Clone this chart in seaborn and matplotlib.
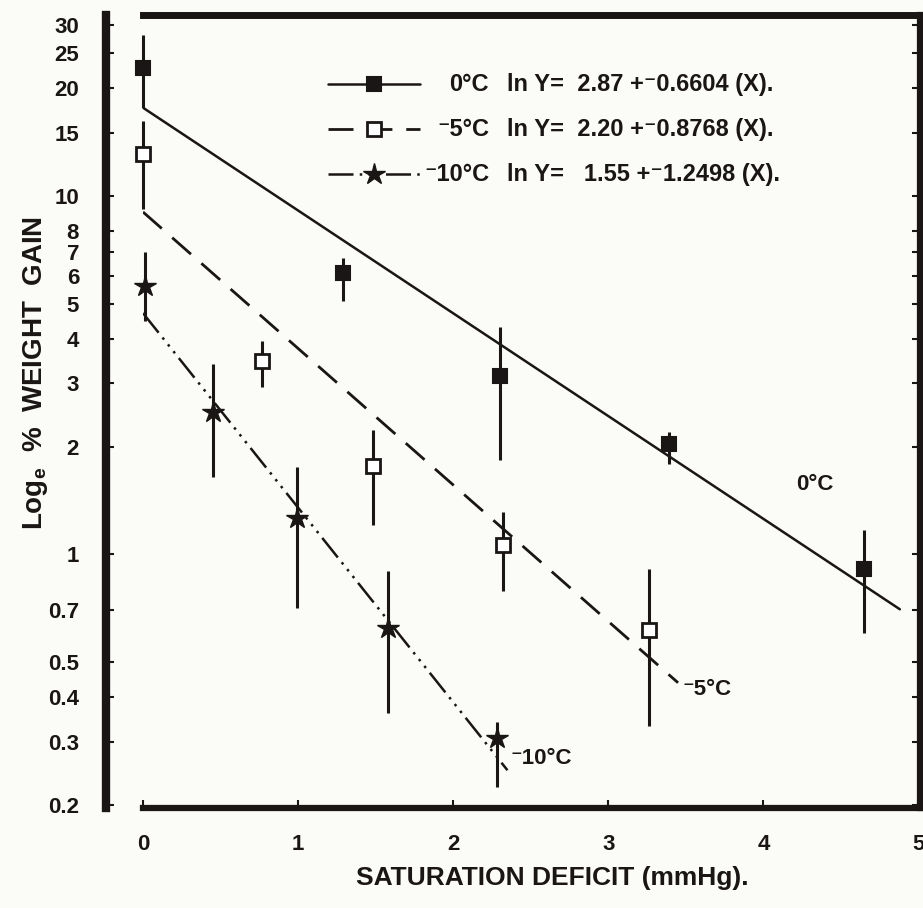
import numpy as np
import matplotlib
matplotlib.use("Agg")
import matplotlib.pyplot as plt
import seaborn as sns
from matplotlib.lines import Line2D

# ---------------- data ----------------
temps = ["0°C", "⁻5°C", "⁻10°C"]
equations = ["ln Y=  2.87 +⁻0.6604 (X).",
             "ln Y=  2.20 +⁻0.8768 (X).",
             "ln Y=   1.55 +⁻1.2498 (X)."]
intercepts = [2.87, 2.20, 1.55]
slopes = [-0.6604, -0.8768, -1.2498]
line_xmax = [4.88, 3.45, 2.35]

x_0 = [0.0, 1.29, 2.30, 3.39, 4.65]
y_0 = [22.7, 6.1, 3.15, 2.03, 0.91]
lo_0 = [17.6, 5.1, 1.83, 1.79, 0.605]
hi_0 = [28.2, 6.7, 4.3, 2.2, 1.17]

x_5 = [0.0, 0.77, 1.48, 2.32, 3.26]
y_5 = [13.1, 3.47, 1.76, 1.06, 0.617]
lo_5 = [9.2, 2.93, 1.21, 0.79, 0.332]
hi_5 = [16.2, 3.93, 2.23, 1.31, 0.908]

x_10 = [0.01, 0.45, 0.99, 1.58, 2.28]
y_10 = [5.6, 2.5, 1.26, 0.624, 0.307]
lo_10 = [4.47, 1.64, 0.71, 0.36, 0.225]
hi_10 = [6.99, 3.4, 1.75, 0.90, 0.34]

yticks = [0.2, 0.3, 0.4, 0.5, 0.7, 1, 2, 3, 4, 5, 6, 7, 8, 10, 15, 20, 25, 30]
ytick_labels = ["0.2", "0.3", "0.4", "0.5", "0.7", "1", "2", "3", "4", "5",
                "6", "7", "8", "10", "15", "20", "25", "30"]
xticks = [0, 1, 2, 3, 4, 5]

# ---------------- style ----------------
sns.set_style("ticks")
plt.rcParams["font.family"] = ["Liberation Sans", "DejaVu Sans"]
plt.rcParams["font.weight"] = "bold"
plt.rcParams["mathtext.fontset"] = "custom"
plt.rcParams["mathtext.rm"] = "Liberation Sans:bold"
plt.rcParams["mathtext.default"] = "rm"

bg = "#fbfbf7"
ink = "#1a1616"

fig = plt.figure(figsize=(9.23, 9.08), dpi=100, facecolor=bg)
ax = fig.add_axes([143 / 923, 1 - 808 / 908, (920 - 143) / 923, (808 - 15) / 908])
ax.set_facecolor(bg)
ax.set_yscale("log")

series = [
    (x_0, y_0, lo_0, hi_0, dict(marker="s", ms=10, mfc=ink, mec=ink, mew=1.5),
     dict(ls="-", lw=1.8)),
    (x_5, y_5, lo_5, hi_5, dict(marker="s", ms=10, mfc="white", mec=ink, mew=2.0),
     dict(ls=(0, (9, 5)), lw=2.0)),
    (x_10, y_10, lo_10, hi_10, dict(marker="*", ms=16, mfc=ink, mec=ink, mew=1.0),
     dict(ls=(0, (10, 2.5, 1, 2.5, 1, 2.5, 1, 2.5)), lw=1.8)),
]

handles = []
for i, (xs, ys, lo, hi, mstyle, lstyle) in enumerate(series):
    # regression line from the stated equation
    xl = np.array([0.0, line_xmax[i]])
    yl = np.exp(intercepts[i] + slopes[i] * xl)
    sns.lineplot(x=xl, y=yl, ax=ax, color=ink, linestyle=lstyle["ls"],
                 linewidth=lstyle["lw"], estimator=None, sort=False, legend=False)
    ys_a = np.array(ys)
    yerr = np.vstack([ys_a - np.array(lo), np.array(hi) - ys_a])
    eb = ax.errorbar(xs, ys, yerr=yerr, fmt="none", ecolor=ink, elinewidth=2.2,
                     capsize=0, zorder=3)
    for c in eb.get_children():
        c.set_clip_on(False)
    ax.plot(xs, ys, linestyle="none", zorder=4, clip_on=False, **mstyle)
    handles.append(Line2D([0], [0], color=ink, linestyle=lstyle["ls"],
                          linewidth=lstyle["lw"], **mstyle))

ax.set_xlim(0, 5.01)
ax.set_ylim(0.196, 32)
ax.set_yticks(yticks)
ax.set_yticklabels(ytick_labels)
ax.yaxis.set_minor_locator(matplotlib.ticker.NullLocator())
ax.set_xticks(xticks)
ax.set_xticklabels([str(t) for t in xticks])

for side in ["left", "right", "top", "bottom"]:
    ax.spines[side].set_visible(True)
    ax.spines[side].set_color(ink)
ax.spines["left"].set_linewidth(6)
ax.spines["left"].set_position(("outward", 27))
ax.spines["top"].set_linewidth(5)
ax.spines["bottom"].set_linewidth(4.5)
ax.spines["right"].set_linewidth(4.5)

ax.tick_params(axis="y", which="major", direction="in", length=6, width=1.5,
               right=True, labelsize=16, pad=19, colors=ink)
ax.tick_params(axis="x", which="major", direction="in", length=6, width=1.5,
               labelsize=16, pad=19, colors=ink)

ax.set_xlabel("SATURATION DEFICIT (mmHg).", fontsize=19, fontweight="bold",
              color=ink)
ax.xaxis.set_label_coords(0.527, -0.073)
ax.set_ylabel("Log$_e$  %  WEIGHT  GAIN", fontsize=20, fontweight="bold",
              color=ink)
ax.yaxis.set_label_coords(-0.12, 0.549)

# legend: line+marker samples; texts placed beside them
leg = ax.legend(handles, [" ", " ", " "], loc="upper left",
                bbox_to_anchor=(0.238, 0.925), borderaxespad=0, borderpad=0,
                frameon=False, handlelength=3.9, handletextpad=0.2,
                labelspacing=0.93, prop=dict(size=17, weight="bold"))
fig.canvas.draw()
inv = ax.transAxes.inverted()
row_y = []
for h in leg.legend_handles:
    bb = h.get_window_extent(fig.canvas.get_renderer())
    row_y.append(inv.transform((0, (bb.y0 + bb.y1) / 2))[1])

x_temp_right = (489 - 143) / 777
x_eq_left = (507 - 143) / 777
for t, e, yy in zip(temps, equations, row_y):
    ax.text(x_temp_right, yy, t, transform=ax.transAxes, fontsize=17,
            fontweight="bold", color=ink, va="center", ha="right")
    ax.text(x_eq_left, yy, e, transform=ax.transAxes, fontsize=17,
            fontweight="bold", color=ink, va="center", ha="left")

# labels at the ends of the fitted lines
ax.text(4.21, 1.57, temps[0], fontsize=16, fontweight="bold", color=ink,
        va="center", ha="left")
ax.text(3.48, 0.42, temps[1], fontsize=16, fontweight="bold", color=ink,
        va="center", ha="left")
ax.text(2.37, 0.27, temps[2], fontsize=16, fontweight="bold", color=ink,
        va="center", ha="left")

fig.savefig("out.png", dpi=100, facecolor=bg)
